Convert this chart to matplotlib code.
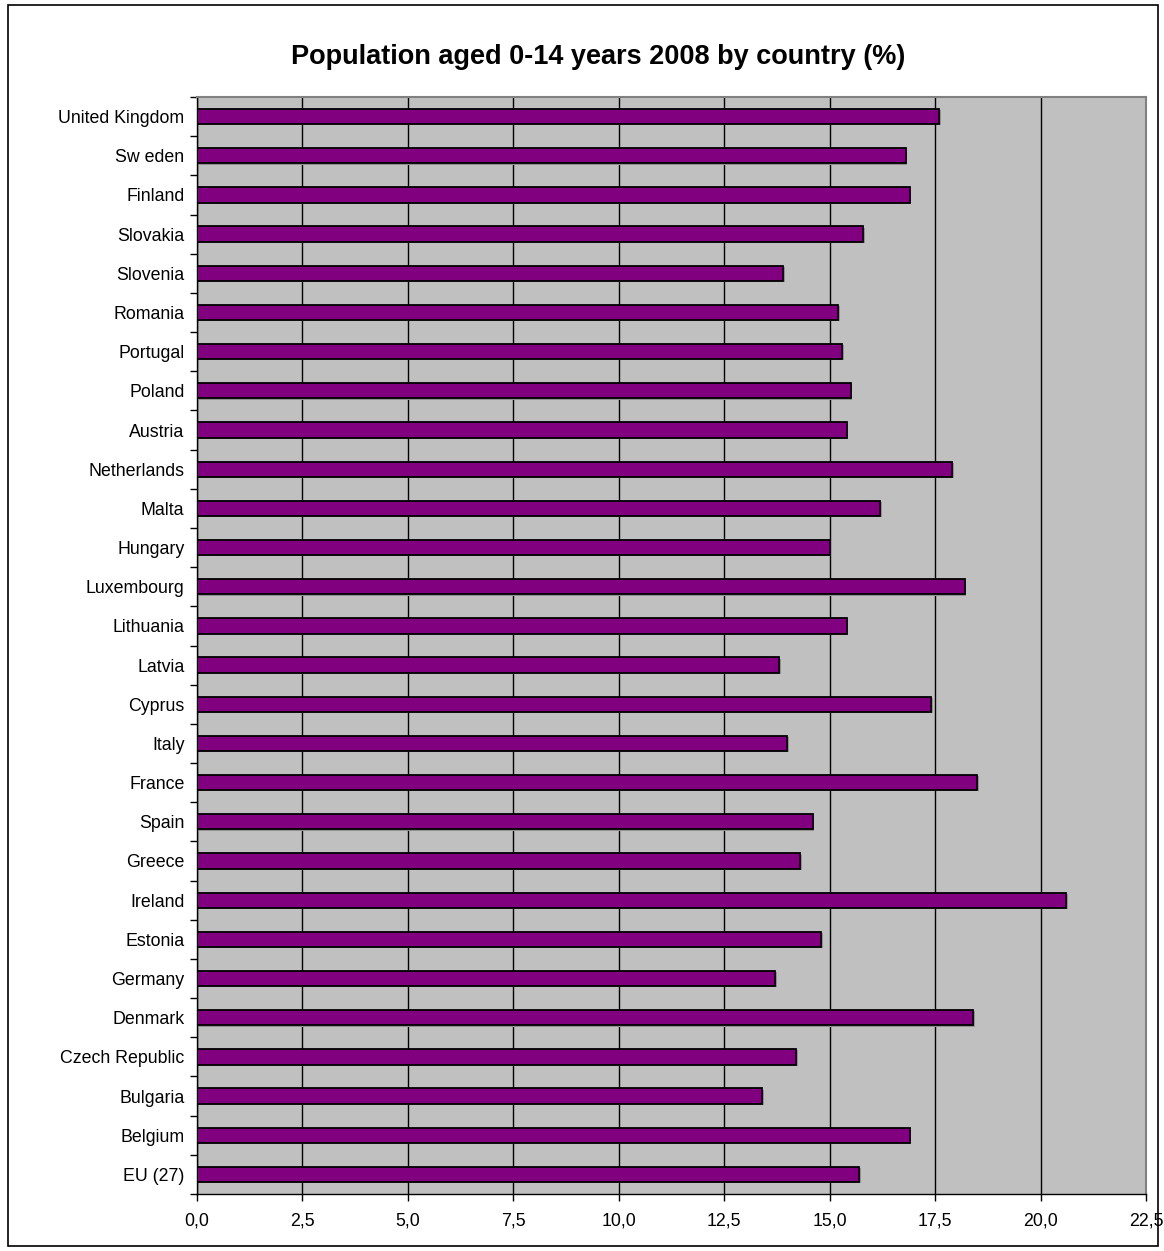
import matplotlib
matplotlib.use("Agg")
import matplotlib.pyplot as plt
import numpy as np
from matplotlib.patches import Rectangle
from matplotlib.ticker import FuncFormatter, MultipleLocator

countries = ["EU (27)", "Belgium", "Bulgaria", "Czech Republic", "Denmark", "Germany",
             "Estonia", "Ireland", "Greece", "Spain", "France", "Italy", "Cyprus",
             "Latvia", "Lithuania", "Luxembourg", "Hungary", "Malta", "Netherlands",
             "Austria", "Poland", "Portugal", "Romania", "Slovenia", "Slovakia",
             "Finland", "Sw eden", "United Kingdom"]
values = [15.7, 16.9, 13.4, 14.2, 18.4, 13.7,
          14.8, 20.6, 14.3, 14.6, 18.5, 14.0, 17.4,
          13.8, 15.4, 18.2, 15.0, 16.2, 17.9,
          15.4, 15.5, 15.3, 15.2, 13.9, 15.8,
          16.9, 16.8, 17.6]

plt.rcParams['font.family'] = ['Liberation Sans', 'DejaVu Sans']

W, H = 1164, 1251
fig = plt.figure(figsize=(W/100, H/100), dpi=100)
fig.patches.append(Rectangle((8/W, 1-1246/H), 1150/W, 1241/H, transform=fig.transFigure,
                             fill=False, edgecolor="black", linewidth=1.2))

left, right, top, bottom = 197, 1146, 97, 1194
ax = fig.add_axes([left/W, 1-bottom/H, (right-left)/W, (bottom-top)/H])
ax.set_facecolor("#C0C0C0")

pos = np.arange(len(countries))
# light shadow behind bars
ax.barh(pos-0.03, values, height=0.39, left=0.04, color="#909090", zorder=2)
ax.barh(pos, values, height=0.39, color="#800080", edgecolor="black", linewidth=1.3, zorder=3)

ax.set_xlim(0, 22.5)
ax.set_ylim(-0.5, len(countries)-0.5)
ax.xaxis.set_major_locator(MultipleLocator(2.5))
ax.xaxis.set_major_formatter(FuncFormatter(lambda v, p: f"{v:.1f}".replace(".", ",")))
ax.grid(axis="x", color="black", linewidth=1, zorder=1)
ax.set_axisbelow(True)

ax.set_yticks(pos)
ax.set_yticklabels(countries)
ax.set_yticks(np.arange(-0.5, len(countries), 1), minor=True)
ax.tick_params(axis="y", which="major", length=0, pad=9, labelsize=12.8)
ax.tick_params(axis="y", which="minor", length=5, width=1, direction="out")
ax.tick_params(axis="x", length=5, width=1, direction="out", labelsize=12.8, pad=8)

for s in ["left", "bottom"]:
    ax.spines[s].set_color("black")
    ax.spines[s].set_linewidth(1)
for s in ["top", "right"]:
    ax.spines[s].set_color("#808080")
    ax.spines[s].set_linewidth(1.5)

fig.text(598/W, 1-57/H, "Population aged 0-14 years 2008 by country (%)",
         ha="center", va="center", fontsize=19.5, fontweight="bold")

fig.savefig("out.png", dpi=100)
